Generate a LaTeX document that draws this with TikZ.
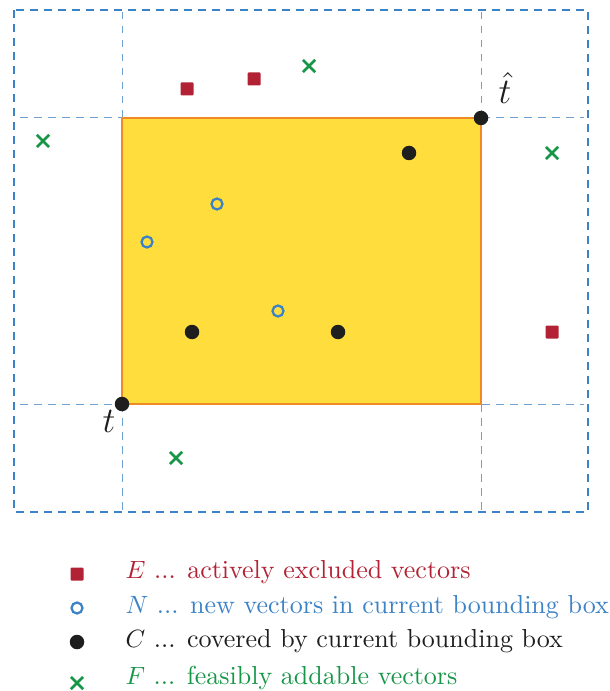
\documentclass[tikz,border=0pt]{standalone}
\usetikzlibrary{shapes.misc}
\definecolor{cred}{RGB}{178,34,52}
\definecolor{cblue}{RGB}{60,130,198}
\definecolor{lblue}{RGB}{110,160,210}
\definecolor{cgreen}{RGB}{24,150,72}
\definecolor{cyellow}{RGB}{255,221,60}
\definecolor{corange}{RGB}{240,138,36}
\definecolor{cblack}{RGB}{30,30,30}
\tikzset{
  esq/.style={rectangle,fill=cred,minimum size=5.2pt,inner sep=0pt,rounded corners=0.4pt},
  ncirc/.style={circle,draw=cblue,line width=0.9pt,minimum size=4.4pt,inner sep=0pt},
  cdot/.style={circle,fill=cblack,minimum size=5.8pt,inner sep=0pt},
  fcross/.style={cross out,draw=cgreen,line width=1pt,minimum size=3.9pt,inner sep=0pt},
  outerdash/.style={draw=cblue,line width=0.6pt,dash pattern=on 3.2pt off 2.4pt},
  innerdash/.style={draw=lblue,line width=0.4pt,dash pattern=on 3pt off 2.6pt},
  legtext/.style={anchor=west,inner sep=0pt,font=\fontsize{10.4}{12.5}\selectfont}
}
\begin{document}
\begin{tikzpicture}[x=0.4pt,y=-0.4pt]
\useasboundingbox (0,0) rectangle (609,691);
% bounding box
\fill[cyellow] (122,118) rectangle (481,404);
% inner dashed lines
\draw[innerdash] (122,12) -- (122,510);
\draw[innerdash] (481,12) -- (481,510);
\draw[innerdash] (20,118) -- (584,118);
\draw[innerdash] (20,404) -- (584,404);
\draw[corange,line width=1.1pt] (122,118) rectangle (481,404);
% outer dashed
\draw[outerdash] (14,10) rectangle (588,512);
% E
\node[esq] (e1) at (187,89) {};
\node[esq] (e2) at (254,79) {};
\node[esq] (e3) at (552,332) {};
% F
\node[fcross] (f1) at (309,66) {};
\node[fcross] (f2) at (43,141) {};
\node[fcross] (f3) at (552,153) {};
\node[fcross] (f4) at (176,458) {};
% N
\node[ncirc] (n1) at (217,204) {};
\node[ncirc] (n2) at (147,242) {};
\node[ncirc] (n3) at (278,311) {};
% C
\node[cdot] (c1) at (409,153) {};
\node[cdot] (c2) at (192,332) {};
\node[cdot] (c3) at (338,332) {};
\node[cdot] (t) at (122,404) {};
\node[cdot] (th) at (481,118) {};
\node[font=\Large,text=cblack,inner sep=0pt] (tl) at (109,421) {$t$};
\node[font=\Large,text=cblack,inner sep=0pt] (thl) at (505,88) {$\hat t$};
% legend
\node[esq] (le) at (77,574) {};
\node[ncirc] (ln) at (77,608) {};
\node[cdot] (lc) at (77,642) {};
\node[fcross] (lf) at (77,683) {};
\node[legtext,text=cred] (lte) at (125,572) {$E$ ... actively excluded vectors};
\node[legtext,text=cblue] (ltn) at (125,607) {$N$ ... new vectors in current bounding box};
\node[legtext,text=cblack] (ltc) at (125,641) {$C$ ... covered by current bounding box};
\node[legtext,text=cgreen] (ltf) at (125,678) {$F$ ... feasibly addable vectors};
\end{tikzpicture}
\end{document}
